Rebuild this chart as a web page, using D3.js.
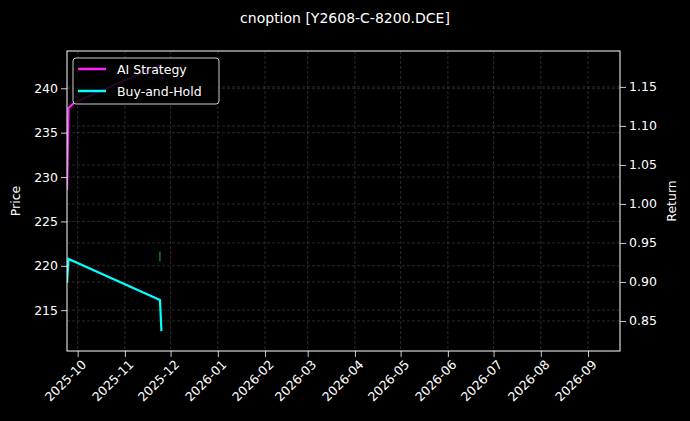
<!DOCTYPE html><html><head><meta charset="utf-8">
<script src="https://cdn.jsdelivr.net/npm/d3@7"></script>
<style>body{margin:0;background:#000}svg{font-family:"DejaVu Sans",sans-serif}</style></head><body>
<svg id="c" width="690" height="421"></svg>
<script>
const title="cnoption [Y2608-C-8200.DCE]";
const aiDates=["2025-09-24","2025-09-25","2025-09-29","2025-11-24","2025-11-26"];
const aiReturn=[1.018,1.123,1.13,1.178,1.16];
const bhDates=["2025-09-24","2025-09-25","2025-11-24","2025-11-25"];
const bhReturn=[0.899,0.9295,0.877,0.837];
const markDate="2025-11-24";
const markPrice=[220.5,221.6];
const priceTicks=[215,220,225,230,235,240];
const returnTicks=[0.85,0.90,0.95,1.00,1.05,1.10,1.15];
const monthTicks=["2025-10","2025-11","2025-12","2026-01","2026-02","2026-03","2026-04","2026-05","2026-06","2026-07","2026-08","2026-09"];
const P=d3.timeParse("%Y-%m-%d"),M=d3.timeParse("%Y-%m");
const L=67,R=620,T=51,B=351;
const svg=d3.select("#c");
svg.append("rect").attr("width",690).attr("height",421).attr("fill","#000");
const x=d3.scaleTime().domain([P("2025-09-24"),P("2026-09-22")]).range([L,R]);
const yP=d3.scaleLinear().domain([210.4,244.2]).range([B,T]);
const yR=d3.scaleLinear().domain([0.8115,1.196]).range([B,T]);
const grid=svg.append("g").attr("stroke","#444").attr("stroke-dasharray","3,2").attr("stroke-width",0.6);
monthTicks.forEach(m=>grid.append("line").attr("x1",x(M(m))).attr("x2",x(M(m))).attr("y1",T).attr("y2",B));
priceTicks.forEach(v=>grid.append("line").attr("x1",L).attr("x2",R).attr("y1",yP(v)).attr("y2",yP(v)));
returnTicks.forEach(v=>grid.append("line").attr("x1",L).attr("x2",R).attr("y1",yR(v)).attr("y2",yR(v)));
svg.append("clipPath").attr("id","cl").append("rect").attr("x",L).attr("y",T).attr("width",R-L).attr("height",B-T);
const g=svg.append("g").attr("clip-path","url(#cl)");
g.append("line").attr("x1",x(P(markDate))).attr("x2",x(P(markDate))).attr("y1",yP(markPrice[0])).attr("y2",yP(markPrice[1])).attr("stroke","#1a9a1a").attr("stroke-width",1.2);
const ln=d3.line().x(d=>x(P(d[0]))).y(d=>yR(d[1]));
g.append("path").attr("d",ln(aiDates.map((d,i)=>[d,aiReturn[i]]))).attr("fill","none").attr("stroke","#ff22ff").attr("stroke-width",2.2);
g.append("path").attr("d",ln(bhDates.map((d,i)=>[d,bhReturn[i]]))).attr("fill","none").attr("stroke","#00ffff").attr("stroke-width",2.2);
const fx=svg.append("g").attr("transform",`translate(0,${B})`).call(d3.axisBottom(x).tickValues(monthTicks.map(M)).tickFormat(d3.timeFormat("%Y-%m")).tickSizeOuter(0));
fx.selectAll("text").attr("transform","rotate(-45)").attr("text-anchor","end").attr("dx","-0.3em").attr("dy","0.6em");
const fl=svg.append("g").attr("transform",`translate(${L},0)`).call(d3.axisLeft(yP).tickValues(priceTicks).tickSizeOuter(0));
const fr=svg.append("g").attr("transform",`translate(${R},0)`).call(d3.axisRight(yR).tickValues(returnTicks).tickFormat(d3.format(".2f")).tickSizeOuter(0));
[fx,fl,fr].forEach(a=>{a.selectAll("text").attr("fill","#fff").attr("font-size",12.5).attr("font-family","DejaVu Sans");a.selectAll("line").attr("stroke","#fff").attr("stroke-width",0.8);a.select(".domain").remove();});
svg.append("rect").attr("x",L).attr("y",T).attr("width",R-L).attr("height",B-T).attr("fill","none").attr("stroke","#fff").attr("stroke-width",1);
svg.append("text").attr("x",345).attr("y",23).attr("text-anchor","middle").attr("fill","#fff").attr("font-size",14).text(title);
svg.append("text").attr("transform","translate(20,201) rotate(-90)").attr("text-anchor","middle").attr("fill","#fff").attr("font-size",12.5).text("Price");
svg.append("text").attr("transform","translate(676,201) rotate(-90)").attr("text-anchor","middle").attr("fill","#fff").attr("font-size",12.5).text("Return");
const lg=svg.append("g");
lg.append("rect").attr("x",73).attr("y",58).attr("width",146).attr("height",46).attr("rx",3).attr("fill","#000").attr("fill-opacity",0.85).attr("stroke","#ccc");
[["AI Strategy","#ff22ff",69],["Buy-and-Hold","#00ffff",91]].forEach(([t,c,y])=>{
lg.append("line").attr("x1",78).attr("x2",106).attr("y1",y).attr("y2",y).attr("stroke",c).attr("stroke-width",2.5);
lg.append("text").attr("x",117).attr("y",y+4.5).attr("fill","#fff").attr("font-size",12.5).text(t);});
</script></body></html>
